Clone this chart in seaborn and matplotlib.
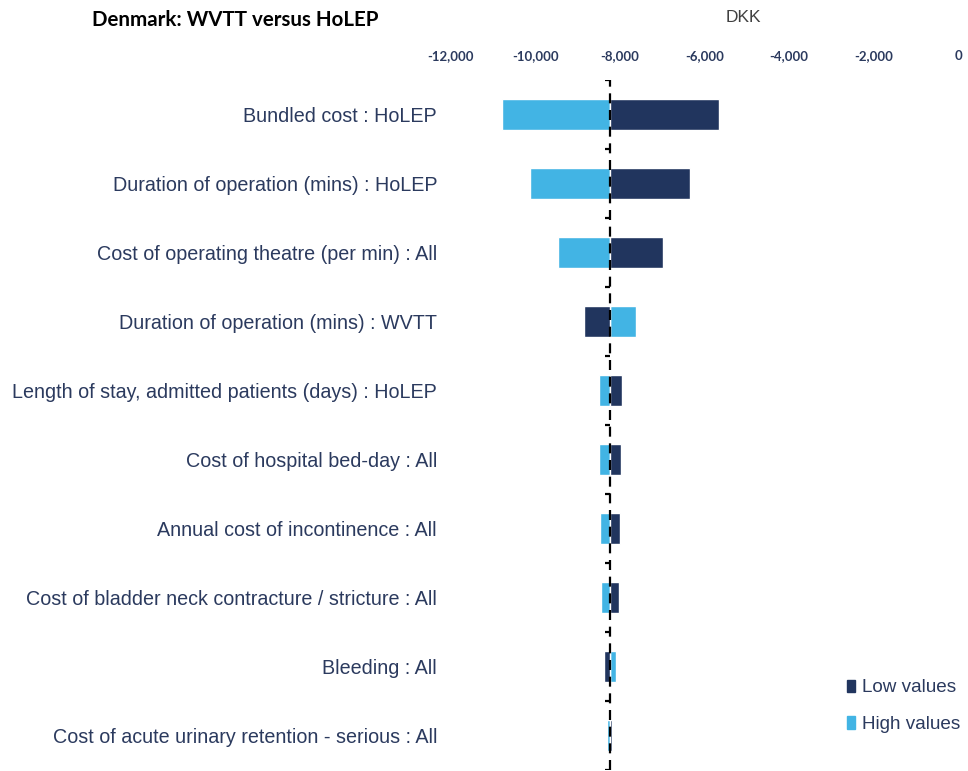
import numpy as np
import pandas as pd
import matplotlib
matplotlib.use("Agg")
import matplotlib.pyplot as plt
import seaborn as sns
from matplotlib.patches import Patch
from matplotlib.ticker import FuncFormatter

# data (DKK)
parameters = [
    "Bundled cost : HoLEP",
    "Duration of operation (mins) : HoLEP",
    "Cost of operating theatre (per min) : All",
    "Duration of operation (mins) : WVTT",
    "Length of stay, admitted patients (days) : HoLEP",
    "Cost of hospital bed-day : All",
    "Annual cost of incontinence : All",
    "Cost of bladder neck contracture / stricture : All",
    "Bleeding : All",
    "Cost of acute urinary retention - serious : All",
]
low_values = [-5665, -6345, -6990, -8845, -7955, -7975, -8000, -8025, -8370, -8185]
high_values = [-10800, -10125, -9475, -7620, -8490, -8490, -8465, -8445, -8100, -8300]
base_value = -8225
x_ticks = [-12000, -10000, -8000, -6000, -4000, -2000, 0]

dark = "#21355E"
light = "#42B4E4"
text_col = "#2B3A5E"

df = pd.DataFrame({"parameter": parameters, "low": low_values, "high": high_values})

sns.set_theme(style="white")
plt.rcParams["font.family"] = ["Liberation Sans", "DejaVu Sans"]

fig = plt.figure(figsize=(9.68, 7.71), dpi=100)
ax = fig.add_axes([0.4659, 0.0013, 0.5238, 0.8949])

ypos = np.arange(len(df))
ax.barh(ypos, df["high"] - base_value, left=base_value, height=0.45, color=light, zorder=2)
ax.barh(ypos, df["low"] - base_value, left=base_value, height=0.45, color=dark, zorder=2)

# dashed base line with small category ticks
ax.axvline(base_value, color="black", linestyle=(0, (4.5, 3)), linewidth=1.6, zorder=3)
ax.hlines(np.arange(len(df) + 1) - 0.5, base_value - 130, base_value, color="black", linewidth=1.6, zorder=3)

ax.set_xlim(-12000, 0)
ax.set_ylim(len(df) - 0.5, -0.5)
ax.xaxis.tick_top()
ax.set_xticks(x_ticks)
ax.xaxis.set_major_formatter(FuncFormatter(lambda v, p: f"{int(v):,}"))
ax.tick_params(axis="x", length=0, pad=13, labelsize=9.5, labelcolor=text_col)
for lbl in ax.get_xticklabels():
    lbl.set_fontweight("bold")
    lbl.set_family(["Lato", "DejaVu Sans"])

ax.set_yticks(ypos)
ax.set_yticklabels(df["parameter"], fontsize=14.2, color=text_col)
ax.tick_params(axis="y", length=0, pad=10)

for s in ax.spines.values():
    s.set_visible(False)
ax.grid(False)

fig.text(0.0955, 0.974, "Denmark: WVTT versus HoLEP", fontsize=14.8, fontweight="bold",
         family=["Lato", "DejaVu Sans"], color="black", va="center")
fig.text(0.768, 0.977, "DKK", fontsize=12.5, color="#404040", ha="center", va="center")

handles = [Patch(color=dark, label="Low values"), Patch(color=light, label="High values")]
fig.legend(handles=handles, loc="center left", bbox_to_anchor=(0.875, 0.084), frameon=False,
           borderpad=0, borderaxespad=0, fontsize=13.6, handlelength=0.42, handleheight=0.62,
           handletextpad=0.35, labelspacing=1.05, labelcolor=text_col)

fig.savefig("out.png", dpi=100)
